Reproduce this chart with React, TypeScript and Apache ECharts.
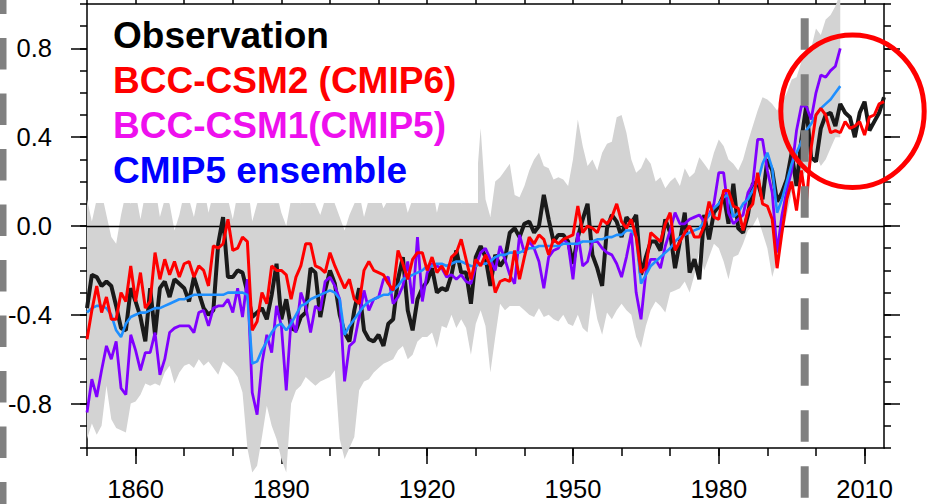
import React, { useEffect, useRef } from "react";
import * as echarts from "echarts";

const START_YEAR = 1850;

// Observed global mean temperature anomaly (1850-2014)
const OBSERVATION = [
  -0.37, -0.22, -0.23, -0.27, -0.25, -0.27, -0.36, -0.46, -0.47, -0.28,
  -0.34, -0.41, -0.52, -0.28, -0.49, -0.28, -0.25, -0.32, -0.24, -0.26,
  -0.28, -0.34, -0.23, -0.30, -0.37, -0.40, -0.38, -0.08, 0.04, -0.23,
  -0.23, -0.20, -0.21, -0.30, -0.41, -0.39, -0.37, -0.42, -0.31, -0.17,
  -0.42, -0.33, -0.46, -0.47, -0.41, -0.39, -0.19, -0.21, -0.41, -0.29,
  -0.20, -0.26, -0.40, -0.48, -0.52, -0.38, -0.28, -0.47, -0.51, -0.52,
  -0.49, -0.54, -0.44, -0.42, -0.24, -0.14, -0.38, -0.47, -0.33, -0.28,
  -0.25, -0.19, -0.30, -0.28, -0.29, -0.22, -0.11, -0.21, -0.21, -0.35,
  -0.14, -0.09, -0.14, -0.27, -0.13, -0.18, -0.15, -0.03, -0.01, -0.05,
  0.01, 0.02, -0.03, 0.00, 0.14, 0.03, -0.07, -0.04, -0.04, -0.07,
  -0.17, -0.05, 0.03, 0.10, -0.13, -0.19, -0.27, -0.01, 0.05, 0.02,
  -0.05, 0.04, 0.01, 0.05, -0.22, -0.14, -0.07, -0.07, -0.11, 0.03,
  -0.03, -0.19, -0.07, 0.06, -0.21, -0.15, -0.24, 0.05, -0.06, 0.06,
  0.09, 0.14, 0.01, 0.19, -0.01, -0.03, 0.05, 0.19, 0.20, 0.12,
  0.30, 0.25, 0.11, 0.15, 0.21, 0.33, 0.18, 0.39, 0.54, 0.31,
  0.29, 0.44, 0.50, 0.51, 0.45, 0.55, 0.51, 0.49, 0.40, 0.51,
  0.56, 0.43, 0.47, 0.51, 0.58,
];

// BCC-CSM2 (CMIP6), 1850-2014
const BCC_CSM2 = [
  -0.51, -0.38, -0.27, -0.39, -0.32, -0.42, -0.42, -0.30, -0.34, -0.18,
  -0.34, -0.21, -0.37, -0.34, -0.12, -0.24, -0.15, -0.22, -0.16, -0.23,
  -0.17, -0.16, -0.23, -0.18, -0.20, -0.27, -0.09, -0.10, -0.08, 0.03,
  -0.11, -0.10, -0.05, -0.07, -0.47, -0.43, -0.30, -0.35, -0.18, -0.20,
  -0.20, -0.22, -0.33, -0.23, -0.18, -0.08, -0.08, -0.18, -0.19, -0.21,
  -0.12, -0.18, -0.23, -0.28, -0.24, -0.33, -0.35, -0.20, -0.16, -0.20,
  -0.21, -0.22, -0.26, -0.29, -0.11, -0.17, -0.24, -0.15, -0.12, -0.12,
  -0.20, -0.14, -0.21, -0.18, -0.22, -0.14, -0.12, -0.06, -0.15, -0.24,
  -0.15, -0.18, -0.13, -0.18, -0.30, -0.25, -0.24, -0.25, -0.11, -0.24,
  -0.14, -0.05, -0.08, -0.04, -0.06, -0.13, -0.06, -0.08, -0.06, -0.05,
  -0.04, 0.09, -0.03, 0.00, -0.01, -0.03, 0.03, 0.01, 0.04, 0.10,
  0.02, -0.01, 0.03, -0.05, -0.21, -0.19, -0.03, -0.05, -0.07, 0.01,
  0.06, -0.11, -0.07, -0.03, 0.00, -0.05, -0.05, 0.00, 0.11, 0.04,
  0.03, 0.16, 0.16, 0.09, 0.08, -0.02, 0.07, 0.10, 0.24, 0.10,
  0.09, 0.03, -0.19, -0.03, 0.12, 0.20, 0.07, 0.25, 0.10, 0.35,
  0.50, 0.53, 0.50, 0.42, 0.43, 0.42, 0.47, 0.44, 0.45, 0.47,
  0.41, 0.49, 0.50, 0.55, 0.56,
];

// BCC-CSM1 (CMIP5), 1850-2005
const BCC_CSM1 = [
  -0.84, -0.69, -0.77, -0.65, -0.54, -0.60, -0.52, -0.73, -0.76, -0.49,
  -0.56, -0.65, -0.57, -0.57, -0.48, -0.67, -0.60, -0.48, -0.46, -0.45,
  -0.45, -0.45, -0.48, -0.39, -0.38, -0.45, -0.37, -0.36, -0.36, -0.33,
  -0.39, -0.28, -0.41, -0.24, -0.75, -0.85, -0.62, -0.49, -0.57, -0.36,
  -0.45, -0.74, -0.42, -0.48, -0.30, -0.36, -0.48, -0.36, -0.38, -0.25,
  -0.23, -0.27, -0.33, -0.70, -0.54, -0.52, -0.41, -0.29, -0.38, -0.33,
  -0.32, -0.24, -0.23, -0.35, -0.32, -0.27, -0.16, -0.35, -0.05, -0.34,
  -0.21, -0.17, -0.18, -0.19, -0.23, -0.22, -0.24, -0.22, -0.25, -0.26,
  -0.18, -0.12, -0.10, -0.15, -0.20, -0.09, -0.15, -0.22, -0.26, -0.04,
  -0.12, -0.07, -0.10, -0.16, -0.28, -0.14, -0.11, -0.10, -0.06, -0.08,
  -0.24, -0.03, -0.18, -0.16, -0.07, -0.07, -0.10, -0.12, -0.13, -0.17,
  -0.23, -0.14, -0.03, -0.30, -0.42, -0.21, -0.15, -0.15, -0.19, -0.09,
  -0.02, 0.06, 0.01, 0.01, 0.03, 0.04, 0.05, 0.02, 0.05, 0.10,
  0.24, 0.24, 0.06, 0.01, 0.03, 0.05, 0.15, 0.19, 0.39, 0.39,
  0.25, 0.15, -0.12, 0.05, 0.16, 0.25, 0.43, 0.54, 0.54, 0.48,
  0.60, 0.68, 0.67, 0.70, 0.72, 0.80,
];

// CMIP5 multi-model ensemble mean, 1850-2005
const CMIP5_MEAN = [
  -0.39, -0.37, -0.36, -0.36, -0.37, -0.40, -0.47, -0.50, -0.44, -0.41,
  -0.40, -0.39, -0.39, -0.38, -0.37, -0.37, -0.36, -0.35, -0.34, -0.33,
  -0.33, -0.32, -0.31, -0.31, -0.31, -0.31, -0.31, -0.31, -0.31, -0.30,
  -0.30, -0.30, -0.30, -0.31, -0.62, -0.61, -0.56, -0.52, -0.48, -0.45,
  -0.44, -0.47, -0.44, -0.40, -0.36, -0.35, -0.33, -0.32, -0.31, -0.30,
  -0.29, -0.30, -0.33, -0.49, -0.45, -0.42, -0.39, -0.36, -0.34, -0.33,
  -0.32, -0.31, -0.31, -0.29, -0.27, -0.24, -0.23, -0.22, -0.21, -0.20,
  -0.18, -0.18, -0.17, -0.17, -0.18, -0.17, -0.16, -0.16, -0.17, -0.18,
  -0.18, -0.17, -0.17, -0.16, -0.14, -0.13, -0.13, -0.12, -0.12, -0.12,
  -0.11, -0.10, -0.10, -0.09, -0.09, -0.09, -0.09, -0.09, -0.08, -0.08,
  -0.08, -0.08, -0.07, -0.07, -0.07, -0.06, -0.06, -0.05, -0.05, -0.04,
  -0.04, -0.02, -0.02, -0.05, -0.26, -0.22, -0.18, -0.16, -0.14, -0.12,
  -0.10, -0.07, -0.05, -0.04, -0.03, -0.02, -0.01, 0.02, 0.05, 0.08,
  0.10, 0.13, 0.14, 0.04, 0.06, 0.10, 0.12, 0.16, 0.20, 0.28,
  0.33, 0.26, 0.06, 0.12, 0.20, 0.28, 0.33, 0.38, 0.43, 0.46,
  0.50, 0.53, 0.55, 0.57, 0.60, 0.63,
];

// CMIP5 ensemble spread: lower and upper envelopes, 1850-2005
const SPREAD_LOWER = [
  -0.96, -0.89, -0.94, -0.90, -0.72, -0.87, -0.91, -0.92, -0.93, -0.80,
  -0.79, -0.76, -0.71, -0.72, -0.71, -0.72, -0.66, -0.63, -0.71, -0.66,
  -0.63, -0.62, -0.64, -0.60, -0.63, -0.61, -0.64, -0.67, -0.61, -0.63,
  -0.65, -0.68, -0.75, -1.00, -1.11, -1.08, -0.95, -0.81, -0.90, -0.96,
  -1.05, -1.11, -0.80, -0.74, -0.72, -0.68, -0.70, -0.72, -0.70, -0.69,
  -0.68, -0.65, -0.96, -1.05, -1.00, -0.95, -0.74, -0.70, -0.69, -0.66,
  -0.64, -0.62, -0.61, -0.60, -0.56, -0.54, -0.60, -0.58, -0.52, -0.50,
  -0.50, -0.48, -0.55, -0.45, -0.46, -0.40, -0.46, -0.42, -0.46, -0.58,
  -0.44, -0.38, -0.45, -0.66, -0.50, -0.35, -0.38, -0.36, -0.36, -0.36,
  -0.38, -0.40, -0.41, -0.37, -0.41, -0.40, -0.42, -0.43, -0.40, -0.44,
  -0.45, -0.40, -0.46, -0.48, -0.30, -0.42, -0.49, -0.39, -0.42, -0.38,
  -0.35, -0.38, -0.40, -0.50, -0.55, -0.45, -0.38, -0.34, -0.36, -0.39,
  -0.30, -0.29, -0.28, -0.25, -0.30, -0.22, -0.11, -0.20, -0.14, -0.08,
  -0.10, -0.16, -0.24, -0.14, -0.13, -0.08, -0.02, 0.00, 0.04, -0.03,
  -0.10, -0.23, -0.15, -0.05, 0.05, 0.15, 0.19, 0.22, 0.25, 0.28,
  0.32, 0.27, 0.30, 0.35, 0.40, 0.40,
];

const SPREAD_UPPER = [
  0.12, 0.02, 0.12, 0.15, 0.05, -0.05, -0.08, 0.05, 0.15, 0.10,
  0.15, 0.03, 0.15, 0.12, 0.18, 0.04, 0.12, 0.10, -0.02, 0.05,
  0.15, 0.12, 0.04, 0.15, 0.18, 0.06, 0.15, 0.20, 0.25, 0.12,
  0.03, 0.15, 0.12, 0.20, 0.02, 0.10, 0.15, 0.20, 0.12, 0.15,
  0.06, 0.00, 0.12, 0.15, 0.10, 0.18, 0.20, 0.10, 0.05, 0.12,
  0.18, 0.10, 0.04, -0.02, 0.05, 0.10, 0.15, 0.04, 0.12, 0.15,
  0.15, 0.08, 0.12, 0.15, 0.20, 0.15, 0.06, 0.12, 0.20, 0.15,
  0.12, 0.18, 0.06, 0.15, 0.12, 0.20, 0.15, 0.10, 0.20, 0.12,
  0.15, 0.44, 0.12, 0.04, 0.20, 0.22, 0.25, 0.28, 0.14, 0.13,
  0.18, 0.25, 0.30, 0.33, 0.27, 0.26, 0.21, 0.22, 0.21, 0.18,
  0.30, 0.48, 0.36, 0.27, 0.30, 0.25, 0.33, 0.37, 0.38, 0.49,
  0.50, 0.42, 0.30, 0.24, 0.26, 0.31, 0.28, 0.20, 0.22, 0.17,
  0.20, 0.22, 0.18, 0.26, 0.22, 0.24, 0.31, 0.28, 0.25, 0.33,
  0.39, 0.36, 0.30, 0.28, 0.25, 0.30, 0.38, 0.45, 0.52, 0.58,
  0.57, 0.55, 0.52, 0.56, 0.60, 0.66, 0.67, 0.74, 0.78, 0.80,
  0.89, 0.86, 0.93, 0.95, 0.99, 1.05,
];

const X_MINOR_TICKS = [1850, 1860, 1870, 1880, 1890, 1900, 1910, 1920, 1930, 1940, 1950, 1960, 1970, 1980, 1990, 2000, 2010];
const X_MAJOR_TICKS = [1860, 1890, 1920, 1950, 1980, 2010];
const Y_MINOR_TICKS = [-1, -0.9, -0.8, -0.7, -0.6, -0.5, -0.4, -0.3, -0.2, -0.1, 0, 0.1, 0.2, 0.3, 0.4, 0.5, 0.6, 0.7, 0.8, 0.9, 1];
const Y_MAJOR_TICKS = [-0.8, -0.4, 0, 0.4, 0.8];

const LEGEND_ITEMS = [
  { text: "Observation", color: "#000000" },
  { text: "BCC-CSM2 (CMIP6)", color: "#ff0000" },
  { text: "BCC-CSM1(CMIP5)", color: "#ee10ee" },
  { text: "CMIP5 ensemble", color: "#0000ff" },
];

const FONT = "'Liberation Sans', Arial, Helvetica, sans-serif";

const toPairs = (vals: number[]) => vals.map((v, i) => [START_YEAR + i, v]);

export default function App() {
  const ref = useRef<HTMLDivElement>(null);

  useEffect(() => {
    if (!ref.current) return;
    const chart = echarts.init(ref.current, undefined, { renderer: "svg" });

    const lineAx = { color: "#000", width: 1.5 };
    const xBase = { type: "value" as const, min: 1850, max: 2014, splitLine: { show: false } };
    const yBase = { type: "value" as const, min: -1, max: 1, splitLine: { show: false } };

    const spreadData = SPREAD_UPPER.map((u, i) => [START_YEAR + i, SPREAD_LOWER[i], u]);

    chart.setOption({
      animation: false,
      backgroundColor: "#ffffff",
      grid: { left: 87, right: 46, top: 4, bottom: 56, containLabel: false },
      xAxis: [
        {
          ...xBase,
          position: "bottom",
          axisLine: { show: true, onZero: false, lineStyle: lineAx },
          axisTick: { show: true, customValues: X_MINOR_TICKS, length: 8, lineStyle: lineAx },
          axisLabel: { show: false },
        },
        {
          ...xBase,
          position: "bottom",
          axisLine: { show: false, onZero: false },
          axisTick: { show: true, customValues: X_MAJOR_TICKS, length: 16, lineStyle: lineAx },
          axisLabel: {
            show: true,
            customValues: X_MAJOR_TICKS,
            formatter: (v: number) => String(v),
            margin: 28,
            fontSize: 25.5,
            color: "#000",
            fontFamily: FONT,
          },
        },
        {
          ...xBase,
          position: "top",
          axisLine: { show: true, onZero: false, lineStyle: lineAx },
          axisTick: { show: true, customValues: X_MINOR_TICKS, length: 8, lineStyle: lineAx },
          axisLabel: { show: false },
        },
      ],
      yAxis: [
        {
          ...yBase,
          position: "left",
          axisLine: { show: true, onZero: false, lineStyle: lineAx },
          axisTick: { show: true, customValues: Y_MINOR_TICKS, length: 7, lineStyle: lineAx },
          axisLabel: {
            show: true,
            customValues: Y_MAJOR_TICKS,
            formatter: (v: number) => v.toFixed(1),
            margin: 35,
            fontSize: 25.5,
            color: "#000",
            fontFamily: FONT,
          },
        },
        {
          ...yBase,
          position: "left",
          axisLine: { show: false, onZero: false },
          axisTick: { show: true, customValues: Y_MAJOR_TICKS, length: 16, lineStyle: lineAx },
          axisLabel: { show: false },
        },
        {
          ...yBase,
          position: "right",
          axisLine: { show: true, onZero: false, lineStyle: lineAx },
          axisTick: { show: true, customValues: Y_MINOR_TICKS, length: 7, lineStyle: lineAx },
          axisLabel: { show: false },
        },
        {
          ...yBase,
          position: "right",
          axisLine: { show: false, onZero: false },
          axisTick: { show: true, customValues: Y_MAJOR_TICKS, length: 16, lineStyle: lineAx },
          axisLabel: { show: false },
        },
      ],
      series: [
        {
          name: "CMIP5 spread",
          type: "custom",
          data: spreadData,
          encode: { x: 0, y: [1, 2] },
          clip: false,
          silent: true,
          z: 1,
          renderItem: (params: any, api: any) => {
            if (params.dataIndex !== 0) return null;
            const pts: number[][] = [];
            for (let i = 0; i < SPREAD_UPPER.length; i++) {
              pts.push(api.coord([START_YEAR + i, SPREAD_UPPER[i]]));
            }
            for (let i = SPREAD_LOWER.length - 1; i >= 0; i--) {
              pts.push(api.coord([START_YEAR + i, SPREAD_LOWER[i]]));
            }
            return {
              type: "polygon",
              shape: { points: pts },
              style: { fill: "#d3d3d3", stroke: "none" },
            };
          },
        },
        {
          name: "zero",
          type: "line",
          data: [],
          silent: true,
          z: 4,
          markLine: {
            silent: true,
            symbol: ["none", "none"],
            label: { show: false },
            lineStyle: { color: "#000", width: 1.3, type: "solid" },
            data: [{ yAxis: 0 }],
          },
        },
        {
          name: "Observation",
          type: "line",
          data: toPairs(OBSERVATION),
          symbol: "none",
          lineStyle: { color: "#1a1a1a", width: 4 },
          itemStyle: { color: "#1a1a1a" },
          z: 5,
        },
        {
          name: "BCC-CSM1(CMIP5)",
          type: "line",
          data: toPairs(BCC_CSM1),
          symbol: "none",
          lineStyle: { color: "#8000ff", width: 2.8 },
          itemStyle: { color: "#8000ff" },
          z: 6,
        },
        {
          name: "CMIP5 ensemble",
          type: "line",
          data: toPairs(CMIP5_MEAN),
          symbol: "none",
          lineStyle: { color: "#1e8fff", width: 2.6 },
          itemStyle: { color: "#1e8fff" },
          z: 7,
        },
        {
          name: "BCC-CSM2 (CMIP6)",
          type: "line",
          data: toPairs(BCC_CSM2),
          symbol: "none",
          lineStyle: { color: "#ff0000", width: 3 },
          itemStyle: { color: "#ff0000" },
          z: 8,
        },
      ],
      graphic: [
        {
          type: "rect",
          z: 3,
          silent: true,
          shape: { x: 88, y: 5.5, width: 390, height: 197.5 },
          style: { fill: "#ffffff" },
        },
        ...LEGEND_ITEMS.map((it, i) => ({
          type: "text",
          z: 30,
          silent: true,
          x: 113,
          y: 35.7 + i * 45,
          style: {
            text: it.text,
            fill: it.color,
            font: `bold 37px ${FONT}`,
            verticalAlign: "middle",
            align: "left",
          },
        })),
        {
          type: "line",
          z: 20,
          silent: true,
          shape: { x1: 804.7, y1: 18.3, x2: 804.7, y2: 504 },
          style: { stroke: "#808080", lineWidth: 8, lineDash: [31.5, 24.5] },
        },
        {
          type: "line",
          z: 20,
          silent: true,
          shape: { x1: 3, y1: -17.5, x2: 3, y2: 504 },
          style: { stroke: "#808080", lineWidth: 7, lineDash: [31.5, 24] },
        },
        {
          type: "ellipse",
          z: 25,
          silent: true,
          shape: { cx: 852.5, cy: 111.2, rx: 71.7, ry: 76.3 },
          style: { fill: "none", stroke: "#ff0000", lineWidth: 5 },
        },
      ],
    });

    return () => chart.dispose();
  }, []);

  return (
    <div
      ref={ref}
      style={{ position: "fixed", left: 0, top: 0, width: 930, height: 504, background: "#fff" }}
    />
  );
}
